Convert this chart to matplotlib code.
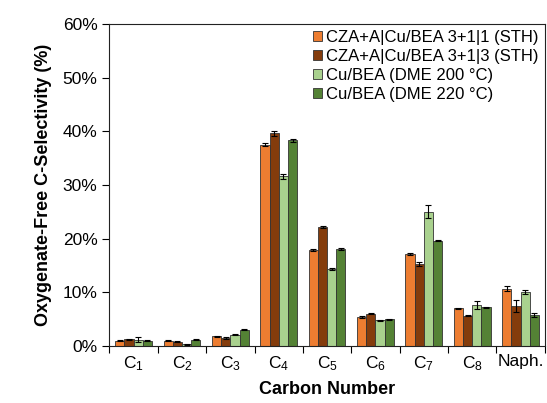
import numpy as np
import matplotlib.pyplot as plt
from matplotlib.ticker import FuncFormatter, MultipleLocator

plt.rcParams['font.family'] = ['Liberation Sans', 'DejaVu Sans']
plt.rcParams['mathtext.default'] = 'regular'

# ── Data ─────────────────────────────────────────────────────────────────────
CATEGORIES = [r'C$_1$', r'C$_2$', r'C$_3$', r'C$_4$', r'C$_5$',
              r'C$_6$', r'C$_7$', r'C$_8$', 'Naph.']

SERIES = ['CZA+A|Cu/BEA 3+1|1 (STH)', 'CZA+A|Cu/BEA 3+1|3 (STH)',
          'Cu/BEA (DME 200 °C)', 'Cu/BEA (DME 220 °C)']

STH_1 = [1.0, 1.0, 1.8, 37.5, 17.9, 5.4, 17.2, 7.0, 10.7]
STH_3 = [1.3, 0.8, 1.5, 39.6, 22.1, 6.0, 15.3, 5.6, 7.4]
DME_200 = [1.2, 0.3, 2.1, 31.6, 14.4, 4.8, 25.0, 7.6, 10.0]
DME_220 = [1.0, 1.2, 3.0, 38.3, 18.0, 5.0, 19.6, 7.2, 5.8]

ERR_STH_1 = [0.1, 0.1, 0.1, 0.3, 0.2, 0.1, 0.2, 0.1, 0.5]
ERR_STH_3 = [0.1, 0.1, 0.1, 0.5, 0.2, 0.1, 0.3, 0.1, 1.1]
ERR_DME_200 = [0.4, 0.1, 0.1, 0.4, 0.2, 0.1, 1.2, 0.7, 0.4]
ERR_DME_220 = [0.1, 0.1, 0.1, 0.3, 0.2, 0.1, 0.1, 0.1, 0.4]

COLORS = ['#ED7D31', '#843C0C', '#A9D18E', '#548235']

# ── Figure ───────────────────────────────────────────────────────────────────
fig = plt.figure(figsize=(5.47, 4.03), dpi=100, facecolor='white')
ax = fig.add_axes([0.2, 0.1414, 0.796, 0.799])

x = np.arange(len(CATEGORIES))
w = 0.19
values = [STH_1, STH_3, DME_200, DME_220]
errors = [ERR_STH_1, ERR_STH_3, ERR_DME_200, ERR_DME_220]

for i, (vals, errs) in enumerate(zip(values, errors)):
    ax.bar(x + (i - 1.5) * w, vals, w, color=COLORS[i], edgecolor='#333333',
           linewidth=0.6, label=SERIES[i],
           yerr=errs, capsize=2.2,
           error_kw=dict(ecolor='black', elinewidth=0.8, capthick=0.8))

ax.set_xlim(-0.5, len(CATEGORIES) - 0.5)
ax.set_ylim(0, 60)
ax.yaxis.set_major_locator(MultipleLocator(10))
ax.yaxis.set_major_formatter(FuncFormatter(lambda v, _: f'{v:.0f}%'))

ax.set_xticks(x)
ax.set_xticklabels(CATEGORIES)
ax.set_xticks(np.arange(-0.5, len(CATEGORIES), 1.0), minor=True)
ax.tick_params(axis='x', which='major', length=0, labelsize=12.5, pad=6)
ax.tick_params(axis='x', which='minor', length=5, direction='out', width=0.8)
ax.tick_params(axis='y', labelsize=12.5, length=5, direction='out', width=0.8)

for s in ax.spines.values():
    s.set_linewidth(0.8)
    s.set_color('#222222')

ax.set_xlabel('Carbon Number', fontsize=13, fontweight='bold', labelpad=6)
ax.set_ylabel('Oxygenate-Free C-Selectivity (%)', fontsize=13,
              fontweight='bold', labelpad=8)

ax.legend(loc='upper right', frameon=False, fontsize=12,
          handlelength=0.55, handleheight=0.55, handletextpad=0.25,
          labelspacing=0.25, borderaxespad=0.15, borderpad=0.2)

fig.savefig('out.png', dpi=100)
